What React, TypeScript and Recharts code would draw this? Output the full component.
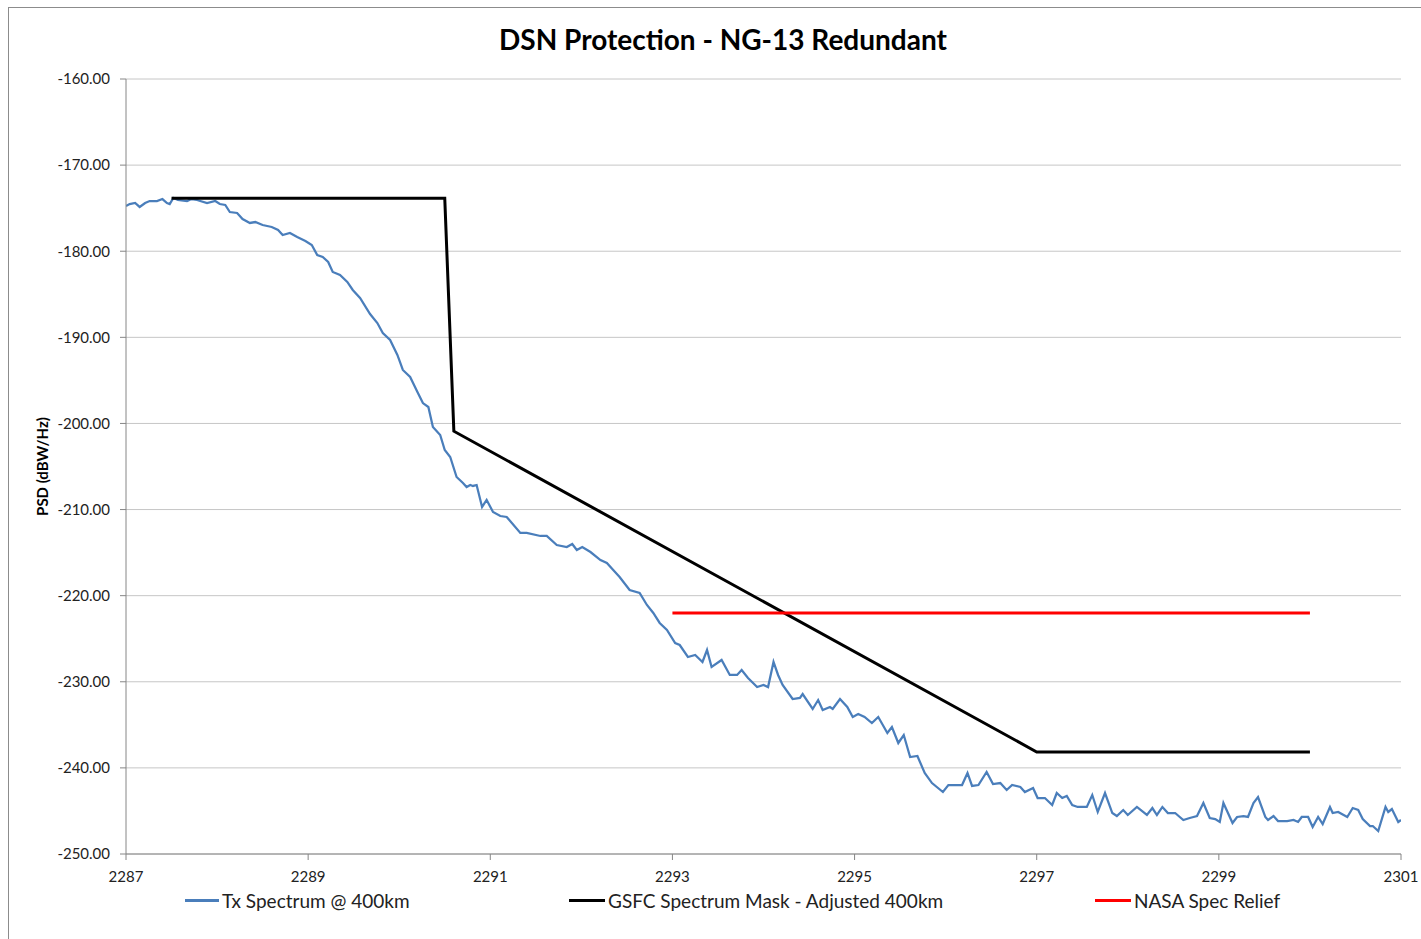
import React from 'react';
import { LineChart, Line, XAxis, YAxis, CartesianGrid } from 'recharts';

const seriesNames = ['Tx Spectrum @ 400km', 'GSFC Spectrum Mask - Adjusted 400km', 'NASA Spec Relief'];
const seriesColors = ['#4a7ebb', '#000000', '#ff0000'];

const xTicks = [2287, 2289, 2291, 2293, 2295, 2297, 2299, 2301];
const yTicks = [-250, -240, -230, -220, -210, -200, -190, -180, -170, -160];

// Tx spectrum: [frequency MHz, PSD dBW/Hz]
const txFreq = [
  2287.00, 2287.04, 2287.10, 2287.15, 2287.21, 2287.26, 2287.34, 2287.40, 2287.45, 2287.48,
  2287.52, 2287.57, 2287.67, 2287.72, 2287.78, 2287.89, 2287.98, 2288.03, 2288.09, 2288.14,
  2288.22, 2288.28, 2288.36, 2288.42, 2288.50, 2288.60, 2288.67, 2288.72, 2288.80, 2288.88,
  2288.97, 2289.04, 2289.10, 2289.16, 2289.22, 2289.27, 2289.35, 2289.43, 2289.49, 2289.57,
  2289.68, 2289.76, 2289.82, 2289.90, 2289.98, 2290.04, 2290.12, 2290.20, 2290.26, 2290.32,
  2290.37, 2290.45, 2290.50, 2290.56, 2290.63, 2290.70, 2290.74, 2290.78, 2290.81, 2290.85,
  2290.91, 2290.96, 2291.03, 2291.11, 2291.18, 2291.33, 2291.40, 2291.55, 2291.62, 2291.73,
  2291.84, 2291.90, 2291.95, 2292.01, 2292.10, 2292.21, 2292.28, 2292.35, 2292.42, 2292.53,
  2292.64, 2292.72, 2292.79, 2292.86, 2292.94, 2293.03, 2293.08, 2293.17, 2293.25, 2293.33,
  2293.38, 2293.43, 2293.54, 2293.63, 2293.71, 2293.76, 2293.83, 2293.93, 2294.00, 2294.05,
  2294.11, 2294.16, 2294.21, 2294.32, 2294.40, 2294.43, 2294.54, 2294.60, 2294.65, 2294.73,
  2294.76, 2294.84, 2294.92, 2294.98, 2295.04, 2295.11, 2295.19, 2295.26, 2295.36, 2295.41,
  2295.48, 2295.54, 2295.61, 2295.69, 2295.77, 2295.85, 2295.97, 2296.03, 2296.13, 2296.18,
  2296.24, 2296.29, 2296.36, 2296.45, 2296.52, 2296.60, 2296.67, 2296.73, 2296.82, 2296.87,
  2296.96, 2297.01, 2297.09, 2297.17, 2297.22, 2297.28, 2297.33, 2297.39, 2297.45, 2297.55,
  2297.61, 2297.67, 2297.75, 2297.83, 2297.88, 2297.95, 2298.00, 2298.10, 2298.21, 2298.27,
  2298.32, 2298.38, 2298.44, 2298.52, 2298.61, 2298.68, 2298.76, 2298.83, 2298.90, 2298.96,
  2299.01, 2299.05, 2299.15, 2299.20, 2299.27, 2299.32, 2299.38, 2299.43, 2299.51, 2299.54,
  2299.60, 2299.65, 2299.75, 2299.82, 2299.87, 2299.91, 2299.98, 2300.03, 2300.09, 2300.14,
  2300.22, 2300.25, 2300.31, 2300.41, 2300.47, 2300.53, 2300.58, 2300.66, 2300.69, 2300.75,
  2300.83, 2300.86, 2300.90, 2300.97, 2301.00,
];
const txPsd = [
  -174.75, -174.52, -174.40, -174.86, -174.40, -174.17, -174.17, -173.94, -174.40, -174.52,
  -173.82, -174.05, -174.17, -173.94, -174.05, -174.40, -174.17, -174.52, -174.63, -175.45,
  -175.56, -176.26, -176.72, -176.61, -176.96, -177.19, -177.54, -178.12, -177.88, -178.35,
  -178.81, -179.28, -180.44, -180.67, -181.25, -182.41, -182.76, -183.57, -184.50, -185.43,
  -187.29, -188.34, -189.50, -190.31, -192.05, -193.79, -194.61, -196.35, -197.63, -198.09,
  -200.41, -201.34, -203.08, -203.90, -206.22, -206.92, -207.38, -207.15, -207.26, -207.15,
  -209.70, -208.89, -210.28, -210.75, -210.86, -212.72, -212.72, -213.07, -213.07, -214.12,
  -214.35, -214.00, -214.70, -214.35, -214.93, -215.86, -216.21, -217.02, -217.83, -219.34,
  -219.69, -221.08, -222.01, -223.17, -223.99, -225.50, -225.73, -227.12, -226.89, -227.70,
  -226.31, -228.28, -227.47, -229.21, -229.21, -228.63, -229.56, -230.61, -230.37, -230.61,
  -227.70, -229.21, -230.37, -232.00, -231.88, -231.42, -233.16, -232.12, -233.28, -232.93,
  -233.16, -232.00, -232.93, -234.09, -233.74, -234.09, -234.79, -234.09, -235.95, -235.25,
  -237.11, -236.18, -238.74, -238.62, -240.59, -241.76, -242.80, -241.99, -241.99, -241.99,
  -240.59, -242.10, -241.99, -240.48, -241.87, -241.76, -242.57, -241.99, -242.22, -242.80,
  -242.34, -243.50, -243.50, -244.31, -242.92, -243.50, -243.26, -244.31, -244.54, -244.54,
  -243.15, -245.12, -242.92, -245.24, -245.59, -244.89, -245.47, -244.54, -245.47, -244.66,
  -245.47, -244.54, -245.24, -245.24, -246.05, -245.82, -245.59, -244.08, -245.82, -245.94,
  -246.28, -244.08, -246.40, -245.70, -245.59, -245.70, -244.08, -243.38, -245.70, -246.05,
  -245.59, -246.17, -246.17, -246.05, -246.28, -245.70, -245.70, -246.87, -245.70, -246.52,
  -244.54, -245.24, -245.12, -245.70, -244.66, -244.89, -245.94, -246.75, -246.75, -247.33,
  -244.54, -245.12, -244.78, -246.28, -246.05,
];

const maskFreq = [2287.5, 2290.5, 2290.6, 2297.0, 2300.0];
const maskPsd = [-173.85, -173.85, -200.9, -238.15, -238.15];

const reliefFreq = [2293.0, 2300.0];
const reliefPsd = [-222.0, -222.0];

const txData = txFreq.map((f, i) => ({ f, v: txPsd[i] }));
const maskData = maskFreq.map((f, i) => ({ f, v: maskPsd[i] }));
const reliefData = reliefFreq.map((f, i) => ({ f, v: reliefPsd[i] }));

const FONT = 'Lato, "Open Sans", sans-serif';

const legendPos = [
  { left: 176, width: 34 },
  { left: 560, width: 36 },
  { left: 1086, width: 36 },
];

export default function App() {
  return (
    <div
      style={{
        position: 'relative',
        width: 1412,
        height: 931,
        marginTop: 7,
        marginLeft: 8,
        borderLeft: '1px solid #8c8c8c',
        borderTop: '1px solid #8c8c8c',
        fontFamily: FONT,
        background: '#fff',
      }}
    >
      <style>{'html,body{margin:0;padding:0;overflow:hidden}.recharts-surface{overflow:visible}'}</style>
      <div
        style={{
          position: 'absolute',
          top: 14,
          left: 8,
          width: 1412,
          textAlign: 'center',
          fontWeight: 700,
          fontSize: 28,
          color: '#000',
        }}
      >
        DSN Protection - NG-13 Redundant
      </div>
      <LineChart
        width={1412}
        height={931}
        margin={{ top: 71, right: 20, bottom: 55, left: 0 }}
        style={{ overflow: 'visible' }}
      >
        <CartesianGrid vertical={false} stroke="#c6c6c6" strokeWidth={1} />
        <XAxis
          type="number"
          dataKey="f"
          domain={[2287, 2301]}
          ticks={xTicks}
          interval={0}
          allowDataOverflow
          height={30}
          stroke="#868686"
          tickSize={6}
          tickMargin={11}
          tick={{ fill: '#222', fontSize: 15, fontFamily: FONT }}
        />
        <YAxis
          type="number"
          domain={[-250, -160]}
          ticks={yTicks}
          interval={0}
          width={117}
          stroke="#868686"
          tickSize={6}
          tickMargin={10}
          tickFormatter={(v: number) => v.toFixed(2)}
          tick={{ fill: '#222', fontSize: 15, fontFamily: FONT }}
          label={(props: any) => {
            const vb = props.viewBox || { y: 71, height: 775 };
            const cy = vb.y + vb.height / 2;
            return (
              <text
                x={33}
                y={cy}
                transform={`rotate(-90 33 ${cy})`}
                textAnchor="middle"
                dominantBaseline="central"
                fontSize={15}
                fontWeight={700}
                fontFamily={FONT}
                fill="#000"
              >
                PSD (dBW/Hz)
              </text>
            );
          }}
        />
        <Line
          data={txData}
          dataKey="v"
          name={seriesNames[0]}
          stroke={seriesColors[0]}
          strokeWidth={2.25}
          dot={false}
          type="linear"
          isAnimationActive={false}
        />
        <Line
          data={maskData}
          dataKey="v"
          name={seriesNames[1]}
          stroke={seriesColors[1]}
          strokeWidth={3}
          dot={false}
          type="linear"
          isAnimationActive={false}
        />
        <Line
          data={reliefData}
          dataKey="v"
          name={seriesNames[2]}
          stroke={seriesColors[2]}
          strokeWidth={3}
          dot={false}
          type="linear"
          isAnimationActive={false}
        />
      </LineChart>
      {seriesNames.map((name, i) => (
        <div
          key={name}
          style={{
            position: 'absolute',
            top: 881,
            left: legendPos[i].left,
            display: 'flex',
            alignItems: 'center',
            fontSize: 19,
            color: '#222',
            whiteSpace: 'nowrap',
          }}
        >
          <span
            style={{
              display: 'inline-block',
              width: legendPos[i].width,
              height: 3,
              background: seriesColors[i],
              marginRight: 3,
            }}
          />
          {name}
        </div>
      ))}
    </div>
  );
}
